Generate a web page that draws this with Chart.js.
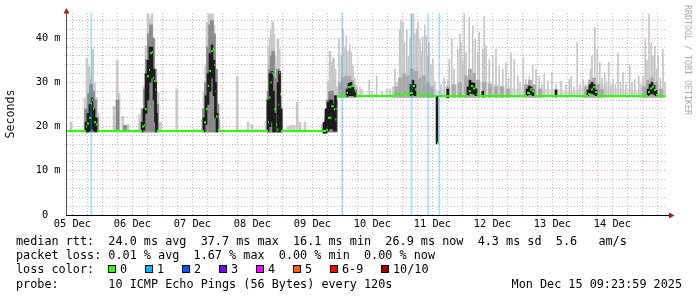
<!DOCTYPE html>
<html lang="en">
<head>
    <meta charset="UTF-8">
    <title>SmokePing - 10 days</title>
    <script src="https://cdn.jsdelivr.net/npm/chart.js"></script>
    <style>
        body { margin: 0; background: #ffffff; }
        canvas { display: block; }
    </style>
</head>
<body>
    <canvas id="smokeChart" width="697" height="297"></canvas>

    <script>
        // window starts 05 Dec 09:50, all times below are hours from that start
        const T0 = 9.84;
        const SPAN = 240;
        const Y_MAX = 45.7;
        const JUMP = 108; // after this the route changed, smoke gets thin spikes

        // median rtt (ms), each value holds until the next time
        const medT = [0, 6.8, 7.6, 8.0, 8.8, 9.6, 10.0, 10.4, 10.8, 11.6, 12.2,
            29.6, 30.0, 30.8, 31.2, 31.9, 32.8, 33.2, 33.9, 34.4, 34.8, 35.3, 35.6, 35.9,
            54.4, 54.8, 55.6, 56.3, 56.9, 57.6, 58.3, 58.9, 59.4, 59.6, 60.3, 60.6,
            80.0, 80.4, 80.8, 81.4, 81.9, 82.3, 82.9, 83.6, 84.1, 84.6, 84.9, 85.2, 85.6,
            103.2, 103.7, 104.4, 105.7, 106.7, 107.3, 107.8, 108.0,
            111.2, 111.8, 112.4, 113.7, 115.1, 115.6,
            130.4, 131.2, 133.2, 134.4, 136.0, 137.2, 138.3, 139.2, 140.0, 141.2, 143.2, 144.4,
            147.6, 148.0, 148.5, 148.8,
            160.0, 160.6, 161.6, 162.4, 163.2, 163.8, 164.2,
            183.2, 184.0, 185.2, 186.0, 186.8, 187.2,
            207.6, 208.4, 209.6, 210.4, 211.2, 212.0,
            231.6, 232.4, 233.2, 234.0, 234.8, 235.6, 236.0, 239.4];
        const medV = [19.0, 19.0, 20.0, 20.7, 22.0, 25.2, 26.0, 24.0, 21.0, 20.5, 19.0,
            19.0, 20.0, 20.3, 23.9, 31.4, 32.8, 36.6, 36.8, 31.0, 30.3, 28.4, 23.0, 19.0,
            19.0, 20.9, 24.0, 29.2, 32.6, 37.1, 37.5, 34.0, 28.0, 22.3, 19.3, 19.0,
            19.0, 21.0, 26.6, 30.0, 32.2, 31.8, 23.9, 20.5, 19.3, 25.0, 32.2, 27.3, 19.0,
            19.0, 19.3, 22.0, 24.6, 23.9, 21.6, 24.0, 26.9,
            26.9, 27.6, 28.9, 29.2, 28.0, 26.9,
            26.9, 27.3, 27.1, 27.6, 27.2, 27.6, 29.2, 28.4, 27.3, 27.0, 27.3, 26.9,
            26.9, 16.3, 17.8, 26.9,
            26.9, 28.0, 29.2, 28.6, 29.0, 27.3, 26.9,
            26.9, 27.6, 28.4, 28.0, 27.2, 26.9,
            26.9, 27.3, 28.4, 28.9, 27.8, 26.9,
            26.9, 27.8, 28.6, 29.0, 28.3, 27.2, 26.9, 26.9];

        // light smoke: min..max of the 10 pings
        const lightT = [1.6, 7.2, 8.0, 8.8, 9.4, 10.3, 11.0, 11.8, 12.4,
            18.8, 20.1, 20.8, 22.3, 24.4,
            29.0, 30.0, 30.8, 31.6, 32.4, 33.2, 34.0, 34.8, 35.6, 36.4, 37.4,
            43.9, 54.1, 54.8, 55.5, 56.1, 56.8, 57.5, 58.2, 58.8, 59.5, 60.1, 60.8,
            68.1, 72.4, 74.0,
            79.6, 80.1, 80.7, 81.2, 81.7, 82.3, 82.8, 83.3, 83.9, 84.4, 84.9, 85.5, 86.0,
            88.4, 89.6, 90.8, 92.1, 93.2, 95.2,
            102.0, 102.9, 103.6, 104.4, 105.2, 106.0, 106.6, 107.2, 107.8,
            108.4, 108.8, 109.7, 110.4, 111.2, 111.7, 112.4, 113.1, 113.7, 114.4, 115.2, 116.0, 117.2,
            118.0, 120.9, 122.0, 123.9, 126.0, 128.0, 129.2,
            130.4, 131.2, 132.0, 133.1, 133.6, 134.4, 135.0, 135.9, 136.5, 137.2, 137.8, 138.6,
            139.2, 139.9, 140.4, 141.2, 141.7, 142.3, 143.1, 143.7, 144.4, 144.8, 145.6, 146.4, 147.2,
            149.6, 150.8, 152.3, 152.9, 153.9, 154.8, 156.3, 157.2, 157.6, 158.4, 158.9, 159.6,
            160.9, 162.3, 163.3, 164.3, 164.9, 166.3, 166.9, 167.6, 168.9, 170.3, 171.6, 172.9,
            174.3, 175.6, 176.6, 177.6, 178.9, 180.3, 181.2, 182.5, 183.6, 184.9, 186.3, 187.6,
            188.9, 190.0, 190.9, 192.3, 194.0, 195.6, 197.6, 199.6, 200.9, 201.7, 202.8, 204.1,
            205.2, 206.4, 207.4, 208.7, 209.4, 210.0, 211.1, 212.1, 213.1, 214.0, 215.1, 215.8,
            216.7, 217.6, 218.4, 219.4, 220.4, 221.4, 222.4, 223.6, 225.1, 226.0, 227.1, 228.7,
            229.6, 230.4, 231.3, 232.0, 232.8, 233.7, 234.4, 235.1, 235.8, 236.4, 237.4, 238.4, 239.2];
        const lightLo = [18.8, 18.8, 18.8, 18.8, 18.8, 18.8, 18.8, 18.8, 18.8,
            18.8, 18.8, 18.8, 18.8, 18.8,
            18.8, 18.8, 18.8, 18.8, 18.8, 18.8, 18.8, 18.8, 18.8, 18.8, 18.8,
            18.8, 18.8, 18.8, 18.8, 18.8, 18.8, 18.8, 18.8, 18.8, 18.8, 18.8, 18.8,
            18.8, 18.8, 18.8,
            18.8, 18.8, 18.8, 18.8, 18.8, 18.8, 18.8, 18.8, 18.8, 18.8, 18.8, 18.8, 18.8,
            18.8, 18.8, 18.8, 18.8, 18.8, 18.8,
            18.8, 18.8, 18.8, 18.8, 18.8, 18.8, 18.8, 18.8, 18.8,
            26.6, 26.6, 26.6, 26.6, 26.6, 26.6, 26.6, 26.6, 26.6, 26.6, 26.6, 26.6, 26.6,
            26.6, 26.6, 26.6, 26.6, 26.6, 26.6, 26.6,
            26.6, 26.6, 26.6, 26.6, 26.6, 26.6, 26.6, 26.6, 26.6, 26.6, 26.6, 26.6,
            26.6, 26.6, 26.6, 26.6, 26.6, 26.6, 26.6, 26.6, 26.6, 26.6, 26.6, 26.6, 26.6,
            26.6, 26.6, 26.6, 26.6, 26.6, 26.6, 26.6, 26.6, 26.6, 26.6, 26.6, 26.6,
            26.6, 26.6, 26.6, 26.6, 26.6, 26.6, 26.6, 26.6, 26.6, 26.6, 26.6, 26.6,
            26.6, 26.6, 26.6, 26.6, 26.6, 26.6, 26.6, 26.6, 26.6, 26.6, 26.6, 26.6,
            26.6, 26.6, 26.6, 26.6, 26.6, 26.6, 26.6, 26.6, 26.6, 26.6, 26.6, 26.6,
            26.6, 26.6, 26.6, 26.6, 26.6, 26.6, 26.6, 26.6, 26.6, 26.6, 26.6, 26.6,
            26.6, 26.6, 26.6, 26.6, 26.6, 26.6, 26.6, 26.6, 26.6, 26.6, 26.6, 26.6,
            26.6, 26.6, 26.6, 26.6, 26.6, 26.6, 26.6, 26.6, 26.6, 26.6, 26.6, 26.6, 26.6];
        const lightHi = [21.0, 26.4, 35.5, 33.6, 30.7, 37.5, 30.0, 26.6, 23.0,
            24.6, 35.0, 27.5, 22.3, 20.5,
            22.7, 24.0, 29.2, 38.3, 45.5, 44.3, 45.5, 39.8, 31.4, 27.7, 21.0,
            28.5, 21.6, 27.7, 33.7, 43.6, 45.5, 45.5, 45.5, 42.8, 28.4, 25.5, 21.6,
            31.4, 21.0, 20.5,
            21.2, 26.1, 38.3, 39.8, 42.0, 43.7, 40.9, 36.0, 33.0, 39.8, 37.5, 26.9, 21.6,
            20.0, 20.3, 20.3, 25.5, 21.0, 21.0,
            20.5, 20.5, 24.0, 30.3, 37.0, 34.5, 35.5, 33.0, 29.0,
            28.4, 39.8, 36.0, 42.0, 38.0, 40.5, 37.0, 38.6, 36.8, 33.7, 31.0, 29.5, 29.0,
            28.5, 30.5, 28.0, 31.4, 28.0, 28.5, 28.5,
            29.0, 33.0, 30.0, 42.0, 44.0, 43.6, 39.0, 42.0, 36.0, 40.0, 45.5, 45.5,
            41.0, 42.0, 43.6, 39.8, 37.0, 40.2, 43.0, 40.5, 36.0, 39.0, 34.0, 35.2, 30.0,
            29.5, 31.0, 30.5, 35.2, 39.8, 33.0, 37.5, 40.9, 39.0, 35.0, 45.5, 36.7,
            44.7, 42.8, 39.8, 36.7, 41.3, 37.5, 45.0, 38.3, 35.2, 36.0, 37.5, 33.7,
            33.0, 34.5, 31.0, 36.7, 35.2, 31.4, 30.0, 35.6, 30.7, 31.4, 34.0, 33.0,
            31.4, 29.5, 31.8, 30.3, 32.2, 29.5, 30.3, 29.5, 30.7, 31.4, 29.0, 39.0,
            29.5, 30.7, 29.5, 30.7, 33.0, 36.0, 42.4, 37.5, 34.5, 31.0, 32.2, 30.0,
            34.5, 29.5, 30.7, 29.5, 36.7, 30.0, 32.2, 29.5, 34.0, 30.0, 30.7, 31.4,
            29.5, 31.4, 39.8, 35.0, 45.5, 39.0, 36.0, 38.2, 33.0, 36.0, 31.0, 37.5, 29.9];

        // mid grey smoke
        const midT = [7.6, 8.8, 9.6, 10.4, 11.2, 12.0, 20.2, 23.2,
            30.4, 31.2, 32.0, 32.8, 33.6, 34.4, 35.2, 36.0,
            54.8, 55.6, 56.4, 57.2, 58.0, 58.8, 59.6, 60.2,
            80.6, 81.2, 81.8, 82.4, 83.0, 83.6, 84.4, 85.0, 85.6,
            103.6, 104.4, 105.2, 106.0, 106.8, 107.6,
            109.2, 110.4, 111.6, 112.8, 114.0, 115.2,
            131.6, 133.2, 134.8, 136.4, 138.0, 139.6, 141.2, 142.8, 144.4, 146.0,
            152.4, 154.8, 157.2, 159.6, 161.2, 162.8, 164.4, 166.8, 169.2, 171.6, 174.0, 176.4,
            183.6, 185.2, 186.8, 189.2, 207.6, 209.2, 210.8, 212.4, 214.0,
            230.8, 232.4, 234.0, 235.6, 237.6];
        const midLo = [18.8, 18.8, 18.8, 18.8, 18.8, 18.8, 18.8, 18.8,
            18.8, 18.8, 18.8, 18.8, 18.8, 18.8, 18.8, 18.8,
            18.8, 18.8, 18.8, 18.8, 18.8, 18.8, 18.8, 18.8,
            18.8, 18.8, 18.8, 18.8, 18.8, 18.8, 18.8, 18.8, 18.8,
            18.8, 18.8, 18.8, 18.8, 18.8, 18.8,
            26.6, 26.6, 26.6, 26.6, 26.6, 26.6,
            26.6, 26.6, 26.6, 26.6, 26.6, 26.6, 26.6, 26.6, 26.6, 26.6,
            26.6, 26.6, 26.6, 26.6, 26.6, 26.6, 26.6, 26.6, 26.6, 26.6, 26.6, 26.6,
            26.6, 26.6, 26.6, 26.6, 26.6, 26.6, 26.6, 26.6, 26.6,
            26.6, 26.6, 26.6, 26.6, 26.6];
        const midHi = [24.0, 27.5, 29.5, 28.0, 26.0, 22.0, 26.0, 20.3,
            24.0, 28.4, 35.2, 41.0, 43.0, 40.0, 33.0, 25.0,
            24.0, 30.0, 38.0, 43.0, 44.0, 41.0, 33.0, 25.0,
            28.0, 33.0, 36.0, 37.0, 31.0, 25.0, 33.0, 32.0, 24.0,
            22.0, 26.0, 28.0, 28.0, 27.0, 26.0,
            30.0, 31.0, 31.4, 31.4, 30.5, 28.5,
            29.0, 31.0, 32.0, 31.5, 33.0, 32.5, 31.0, 31.5, 30.0, 29.0,
            29.0, 29.5, 30.0, 31.5, 33.0, 32.0, 30.5, 30.0, 29.5, 29.0, 29.0, 28.5,
            29.5, 30.5, 29.5, 28.5, 29.0, 30.5, 31.0, 29.5, 28.5,
            29.0, 30.5, 31.0, 30.0, 28.5];

        // dense core of the smoke (near black)
        const darkT = [7.6, 8.4, 9.2, 10.0, 10.8, 11.6,
            30.0, 30.8, 31.6, 32.4, 33.2, 34.0, 34.8, 35.4, 35.8,
            54.8, 55.6, 56.4, 57.2, 58.0, 58.8, 59.4, 60.0,
            80.4, 81.2, 82.0, 82.6, 83.2, 84.4, 85.0, 85.6,
            102.8, 103.6, 104.4, 105.2, 106.0, 106.8, 107.4,
            112.0, 112.8, 113.6, 114.4, 115.2,
            137.6, 138.4, 139.2, 148.0, 152.3,
            160.4, 161.2, 162.0, 162.8, 163.6, 166.3,
            184.0, 184.8, 185.6, 186.4, 195.6,
            208.4, 209.2, 210.0, 210.8, 211.6,
            232.4, 233.2, 234.0, 234.8, 235.6];
        const darkLo = [18.8, 18.8, 19.0, 19.5, 19.0, 18.8,
            18.8, 19.2, 23.0, 26.0, 30.0, 31.0, 26.0, 21.0, 18.8,
            18.8, 20.5, 25.0, 28.0, 31.0, 27.0, 22.0, 18.8,
            18.8, 20.0, 21.0, 18.8, 18.8, 18.8, 18.8, 18.8,
            18.5, 18.5, 19.0, 19.5, 19.5, 19.0, 19.0,
            26.8, 27.0, 27.0, 27.0, 26.8,
            27.0, 27.2, 27.0, 16.1, 26.5,
            27.0, 27.5, 27.5, 27.3, 27.0, 26.7,
            27.0, 27.3, 27.3, 27.0, 26.7,
            27.0, 27.3, 27.5, 27.3, 27.0,
            27.0, 27.3, 27.5, 27.3, 27.0];
        const darkHi = [21.0, 23.0, 25.0, 26.5, 24.0, 22.0,
            21.0, 24.0, 32.0, 35.0, 38.0, 38.0, 33.0, 30.0, 23.0,
            22.0, 27.0, 32.0, 36.5, 38.5, 35.0, 30.0, 23.0,
            26.0, 32.0, 32.5, 28.0, 23.0, 30.0, 32.5, 24.0,
            21.0, 24.0, 25.5, 26.0, 26.0, 25.0, 27.0,
            28.5, 29.8, 30.0, 29.3, 28.2,
            29.5, 30.5, 29.5, 26.9, 28.5,
            29.0, 30.5, 30.0, 29.8, 28.5, 28.0,
            28.5, 29.2, 29.0, 28.3, 28.3,
            28.3, 29.5, 30.0, 29.5, 28.3,
            28.5, 29.5, 30.0, 29.3, 28.2];

        // low grey haze above the median after the jump
        const hazeT = [108.0, 109.0, 112.0, 115.0, 116.0, 130.0, 131.0, 134.0, 138.0, 142.0, 147.5,
            149.0, 152.0, 156.0, 160.0, 164.0, 168.0, 172.0, 176.0, 180.0, 184.0, 188.0, 192.0,
            196.0, 200.0, 204.0, 208.0, 212.0, 216.0, 220.0, 224.0, 228.0, 232.0, 236.0, 239.4];
        const hazeV = [27.5, 29.5, 30.5, 29.0, 27.3, 27.3, 28.5, 30.0, 31.0, 30.0, 28.5,
            28.0, 29.5, 29.5, 30.5, 30.5, 30.0, 29.5, 29.0, 28.5, 29.5, 29.0, 28.5,
            28.5, 28.0, 28.3, 29.5, 30.5, 29.0, 28.5, 28.5, 28.3, 29.5, 30.0, 28.0];

        // packet loss events (1/10)
        const lossT = [9.7, 110.1, 137.8, 144.5, 148.9];

        const lossLabels = ['0', '1', '2', '3', '4', '5', '6-9', '10/10'];
        const lossColors = ['#26ff00', '#00b8ff', '#0059ff', '#7e00ff', '#ff00ff', '#ff5e00', '#ff0000', '#a10000'];

        const legendLines = [
            'median rtt:  24.0 ms avg  37.7 ms max  16.1 ms min  26.9 ms now  4.3 ms sd  5.6   am/s',
            'packet loss: 0.01 % avg  1.67 % max  0.00 % min  0.00 % now',
            'loss color:',
            'probe:       10 ICMP Echo Pings (56 Bytes) every 120s'
        ];
        const stamp = 'Mon Dec 15 09:23:59 2025';

        const MONO = '"DejaVu Sans Mono", "Liberation Mono", monospace';

        function bars(t, lo, hi, keep) {
            const out = [];
            t.forEach((x, i) => { if (keep(x)) out.push({ x: x, y: [lo[i], hi[i]] }); });
            return out;
        }

        const medData = [];
        for (let i = 0; i < medT.length - 1; i++) {
            medData.push({ x: medT[i], y: medV[i] }, { x: medT[i + 1], y: medV[i] }, { x: medT[i + 1], y: null });
        }

        // axes, arrows, legend and other rrdtool text
        const decor = {
            id: 'decor',
            afterDraw(chart) {
                const ctx = chart.ctx;
                const a = chart.chartArea;
                ctx.save();

                ctx.fillStyle = '#555';
                ctx.fillRect(a.left - 1, a.top - 1, 1, a.bottom - a.top + 1);
                ctx.fillStyle = '#000';
                ctx.fillRect(a.left - 1, a.bottom, a.right - a.left + 3, 1);

                ctx.fillStyle = '#9a1f1f';
                ctx.beginPath();
                ctx.moveTo(a.left - 0.5, a.top - 5);
                ctx.lineTo(a.left - 3.5, a.top + 0.5);
                ctx.lineTo(a.left + 2.5, a.top + 0.5);
                ctx.closePath();
                ctx.fill();
                ctx.beginPath();
                ctx.moveTo(a.right + 7.5, a.bottom + 0.5);
                ctx.lineTo(a.right + 2, a.bottom - 2.5);
                ctx.lineTo(a.right + 2, a.bottom + 3.5);
                ctx.closePath();
                ctx.fill();

                // y axis unit
                ctx.fillStyle = '#111';
                ctx.font = '11.6px ' + MONO;
                ctx.textAlign = 'center';
                ctx.textBaseline = 'middle';
                ctx.translate(10.5, 114);
                ctx.rotate(-Math.PI / 2);
                ctx.fillText('Seconds', 0, 0);
                ctx.setTransform(1, 0, 0, 1, 0, 0);

                // watermark
                ctx.fillStyle = '#aaaaaa';
                ctx.font = '8.3px ' + MONO;
                ctx.translate(687, 60);
                ctx.rotate(Math.PI / 2);
                ctx.fillText('RRDTOOL / TOBI OETIKER', 0, 0);
                ctx.setTransform(1, 0, 0, 1, 0, 0);

                // legend
                ctx.fillStyle = '#000';
                ctx.font = '11.8px ' + MONO;
                ctx.textAlign = 'left';
                ctx.textBaseline = 'alphabetic';
                const base = [244.5, 259, 273.3, 287.6];
                legendLines.forEach((line, i) => ctx.fillText(line, 16, base[i]));

                const boxX = [108, 145, 182, 219, 256, 293, 330, 381];
                lossLabels.forEach((lab, i) => {
                    ctx.fillStyle = lossColors[i];
                    ctx.fillRect(boxX[i], 265, 8, 8);
                    ctx.strokeStyle = '#000';
                    ctx.lineWidth = 1;
                    ctx.strokeRect(boxX[i] + 0.5, 265.5, 7, 7);
                    ctx.fillStyle = '#000';
                    ctx.fillText(lab, boxX[i] + 12, base[2]);
                });

                ctx.textAlign = 'right';
                ctx.fillText(stamp, 682, base[3]);
                ctx.restore();
            }
        };

        const tickK = v => Math.round((v + T0) / 6);

        new Chart(document.getElementById('smokeChart'), {
            type: 'bar',
            data: {
                datasets: [
                    { type: 'line', data: medData, borderColor: '#26ff00', borderWidth: 2, pointRadius: 0, spanGaps: false, order: 0 },
                    { data: lossT.map(t => ({ x: t, y: [0, Y_MAX] })), backgroundColor: 'rgba(0,184,255,0.38)', barThickness: 1, grouped: false, order: 1 },
                    { data: bars(darkT, darkLo, darkHi, () => true), backgroundColor: '#1c1c1c', barThickness: 2, grouped: false, order: 2 },
                    { data: bars(midT, midLo, midHi, t => t < JUMP), backgroundColor: '#8a8a8a', barThickness: 3, grouped: false, order: 3 },
                    { data: bars(midT, midLo, midHi, t => t >= JUMP), backgroundColor: '#a8a8a8', barThickness: 3, grouped: false, order: 3 },
                    { data: bars(lightT, lightLo, lightHi, t => t < JUMP), backgroundColor: '#c8c8c8', barThickness: 2, grouped: false, order: 4 },
                    { data: bars(lightT, lightLo, lightHi, t => t >= JUMP), backgroundColor: '#c4c4c4', barThickness: 1, grouped: false, order: 4 },
                    { type: 'line', data: hazeT.map((t, i) => ({ x: t, y: hazeV[i] })), borderWidth: 0, pointRadius: 0,
                      backgroundColor: '#dedede', fill: { value: 26.7 }, order: 5 }
                ]
            },
            options: {
                responsive: false,
                animation: false,
                devicePixelRatio: 1,
                layout: { padding: { left: 0, right: 30, top: 13, bottom: 0 } },
                plugins: { legend: { display: false }, tooltip: { enabled: false } },
                scales: {
                    x: {
                        type: 'linear',
                        min: 0,
                        max: SPAN,
                        offset: false,
                        afterBuildTicks: s => {
                            const t = [];
                            for (let k = 2; k * 6 - T0 <= SPAN; k++) t.push({ value: k * 6 - T0 });
                            s.ticks = t;
                        },
                        afterFit: s => { s.height = 82; },
                        grid: {
                            offset: false,
                            drawTicks: false,
                            color: c => tickK(c.tick.value) % 4 === 0 ? 'rgba(225,90,90,0.6)' : 'rgba(160,160,160,0.7)'
                        },
                        border: { display: false, dash: [1, 2] },
                        ticks: {
                            autoSkip: false,
                            maxRotation: 0,
                            padding: 3,
                            color: '#000',
                            font: { family: MONO, size: 10.3 },
                            callback: v => {
                                const k = tickK(v);
                                if (k % 4 !== 2) return '';
                                const day = 5 + (k - 2) / 4;
                                return ('0' + day).slice(-2) + ' Dec';
                            }
                        }
                    },
                    y: {
                        min: 0,
                        max: Y_MAX,
                        afterBuildTicks: s => {
                            const t = [];
                            for (let v = 0; v <= 44; v += 2) t.push({ value: v });
                            s.ticks = t;
                        },
                        afterFit: s => { s.width = 67; },
                        grid: {
                            drawTicks: false,
                            color: c => c.tick.value % 10 === 0 ? 'rgba(225,90,90,0.6)' : 'rgba(160,160,160,0.7)'
                        },
                        border: { display: false, dash: [1, 2] },
                        ticks: {
                            autoSkip: false,
                            padding: 6.5,
                            color: '#000',
                            font: { family: MONO, size: 10.3 },
                            callback: v => v % 10 !== 0 ? '' : (v === 0 ? '0  ' : v + ' m')
                        }
                    }
                }
            },
            plugins: [decor]
        });
    </script>
</body>
</html>
